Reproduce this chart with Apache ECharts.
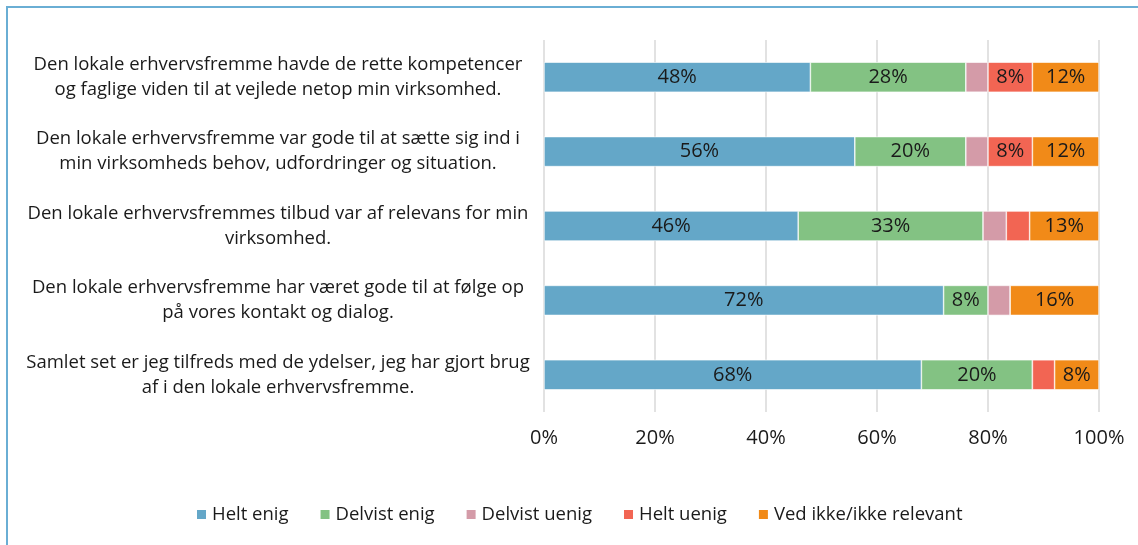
<!DOCTYPE html>
<html>
<head>
<meta charset="utf-8">
<script src="https://cdn.jsdelivr.net/npm/echarts@6/dist/echarts.min.js"></script>
<style>
html,body{margin:0;padding:0;background:#fff;overflow:hidden;}
#frame{position:absolute;left:6px;top:6px;width:1200px;height:600px;border-top:2px solid #6aaed4;border-left:2px solid #6aaed4;}
#chart{position:absolute;left:0;top:0;width:1138px;height:545px;}
</style>
</head>
<body>
<div id="frame"></div>
<div id="chart"></div>
<script>
const categories = [
  "Den lokale erhvervsfremme havde de rette kompetencer\nog faglige viden til at vejlede netop min virksomhed.",
  "Den lokale erhvervsfremme var gode til at sætte sig ind i\nmin virksomheds behov, udfordringer og situation.",
  "Den lokale erhvervsfremmes tilbud var af relevans for min\nvirksomhed.",
  "Den lokale erhvervsfremme har været gode til at følge op\npå vores kontakt og dialog.",
  "Samlet set er jeg tilfreds med de ydelser, jeg har gjort brug\naf i den lokale erhvervsfremme."
];
const seriesNames = ["Helt enig", "Delvist enig", "Delvist uenig", "Helt uenig", "Ved ikke/ikke relevant"];
const heltEnig = [48, 56, 45.8, 72, 68];
const delvistEnig = [28, 20, 33.3, 8, 20];
const delvistUenig = [4, 4, 4.2, 4, 0];
const heltUenig = [8, 8, 4.2, 0, 4];
const vedIkke = [12, 12, 12.5, 16, 8];
const xTicks = [0, 20, 40, 60, 80, 100];

const colors = ["#64a7c8", "#83c283", "#d49ba8", "#f26553", "#f18a18"];
const allData = [heltEnig, delvistEnig, delvistUenig, heltUenig, vedIkke];

const chart = echarts.init(document.getElementById('chart'));
chart.setOption({
  animation: false,
  textStyle: { fontFamily: "Open Sans" },
  grid: { left: 544, right: 39, top: 40, bottom: 133 },
  legend: {
    top: 500,
    left: 190,
    itemWidth: 11,
    itemHeight: 11,
    itemGap: 30,
    icon: 'rect',
    textStyle: { fontSize: 18.5, color: '#1a1a1a', fontFamily: 'Open Sans' },
    data: seriesNames
  },
  xAxis: {
    type: 'value',
    min: xTicks[0], max: xTicks[xTicks.length - 1], interval: 20,
    axisLine: { show: false },
    axisTick: { show: false },
    splitLine: { show: true, lineStyle: { color: '#d9d9d9', width: 1.5 } },
    axisLabel: { formatter: v => v + '%', fontSize: 20, color: '#1a1a1a', margin: 16, fontFamily: 'Open Sans' }
  },
  yAxis: {
    type: 'category',
    inverse: true,
    data: categories,
    axisLine: { show: false },
    axisTick: { show: false },
    axisLabel: {
      margin: 6,
      align: 'right',
      fontFamily: 'Open Sans',
      formatter: v => v.split('\n').map(l => '{c|' + l + '}').join('\n'),
      rich: { c: { width: 520, align: 'center', fontSize: 18.5, lineHeight: 25, color: '#1a1a1a', fontFamily: 'Open Sans' } }
    }
  },
  series: seriesNames.map((name, i) => ({
    name: name,
    type: 'bar',
    stack: 'total',
    barWidth: 30,
    data: allData[i],
    itemStyle: { color: colors[i], borderColor: '#ffffff', borderWidth: 0.6 },
    label: {
      show: true,
      position: 'inside',
      fontSize: 20,
      color: '#1a1a1a',
      fontFamily: 'Open Sans',
      formatter: p => p.value >= 5 ? Math.round(p.value) + '%' : ''
    }
  }))
});
</script>
</body>
</html>
